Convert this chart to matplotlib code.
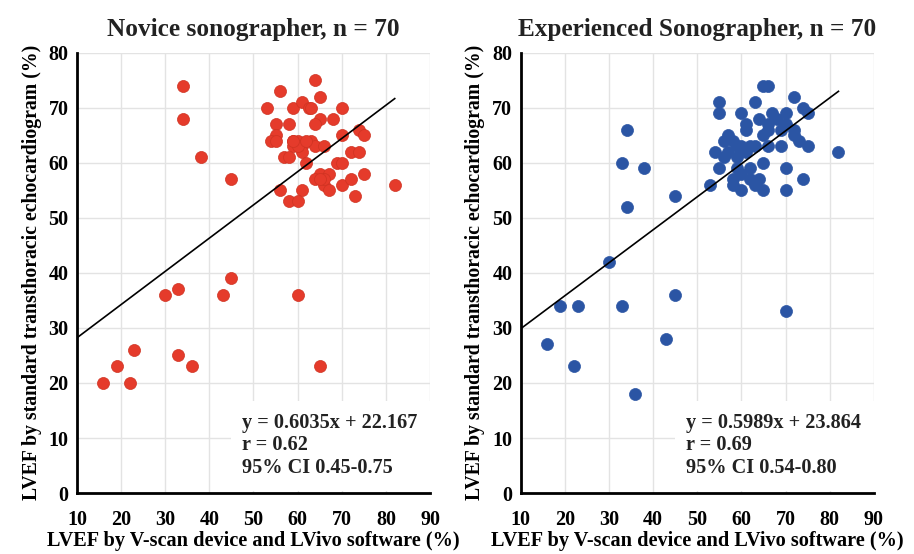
import matplotlib
matplotlib.use("Agg")
import matplotlib.pyplot as plt
from matplotlib.patches import Rectangle

# Novice sonographer
novice_x = [34, 34, 38, 45, 45, 43, 30, 33, 33, 36, 23, 19, 16, 22, 60, 65, 82,
            64, 56, 65, 53, 59, 61, 62.5, 63, 70, 65, 68, 55, 58, 64, 55, 54, 55,
            59, 60, 59, 61, 61, 63, 64, 66, 70, 74, 75, 72, 74, 57, 58, 62, 69,
            70, 65, 67, 64, 66, 67, 70, 72, 75, 73, 56, 61, 58, 60, 66, 60, 62,
            65, 59]
novice_y = [74, 68, 61, 57, 39, 36, 36, 37, 25, 23, 26, 23, 20, 20, 36, 23, 56,
            75, 73, 72, 70, 70, 71, 70, 70, 70, 68, 68, 67, 67, 67, 65, 64, 64,
            64, 64, 63, 63, 62, 64, 63, 63, 65, 66, 65, 62, 62, 61, 61, 60, 60,
            60, 58, 58, 57, 56, 55, 56, 57, 58, 54, 55, 55, 53, 53, 57, 63, 64,
            57, 64]

# Experienced sonographer
exp_x = [16, 22, 19, 23, 33, 36, 43, 45, 30, 34, 33, 34, 38, 45, 70, 82, 53,
         65, 66, 55, 55, 63, 72, 74, 75, 60, 67, 70, 64, 61, 61, 66, 68, 70,
         65, 66, 69, 72, 72, 73, 75, 69, 66, 57, 56, 58, 54, 59, 60, 62, 63,
         56, 59, 55, 59, 62, 65, 70, 58, 60, 62, 64, 58, 60, 65, 70, 74, 63,
         61, 57]
exp_y = [27, 23, 34, 34, 34, 18, 28, 36, 42, 52, 60, 66, 59, 54, 33, 62, 56,
         74, 74, 71, 69, 71, 72, 70, 69, 69, 69, 69, 68, 67, 66, 67, 68, 67,
         65, 66, 66, 66, 65, 64, 63, 63, 63, 65, 64, 64, 62, 63, 63, 63, 63,
         61, 61, 59, 59, 59, 60, 59, 57, 58, 57, 57, 56, 55, 55, 55, 57, 56,
         62, 62]

panels = [
    {"title": "Novice sonographer, n = 70", "x": novice_x, "y": novice_y,
     "slope": 0.6035, "icpt": 22.167, "r": "0.62", "ci": "0.45-0.75",
     "color": "#E53B2B", "edge": "#CF3322"},
    {"title": "Experienced Sonographer, n = 70", "x": exp_x, "y": exp_y,
     "slope": 0.5989, "icpt": 23.864, "r": "0.69", "ci": "0.54-0.80",
     "color": "#2B55A4", "edge": "#2B55A4"},
]

xticks = [10, 20, 30, 40, 50, 60, 70, 80, 90]
yticks = [0, 10, 20, 30, 40, 50, 60, 70, 80]

plt.rcParams['font.family'] = ['Liberation Serif', 'DejaVu Serif']
plt.rcParams['font.weight'] = 'bold'

fig = plt.figure(figsize=(9.14, 5.54), dpi=100)
lefts = [0.0842, 0.5697]
width = 0.3863

for p, left in zip(panels, lefts):
    ax = fig.add_axes([left, 0.110, width, 0.795])
    ax.set_xlim(10, 90)
    ax.set_ylim(0, 80)
    ax.set_xticks(xticks)
    ax.set_yticks(yticks)
    ax.grid(True, color="#E3E3E3", linewidth=1.0, zorder=0)
    ax.set_axisbelow(True)
    for s in ["top", "right"]:
        ax.spines[s].set_visible(False)
    for s in ["left", "bottom"]:
        ax.spines[s].set_linewidth(2)
        ax.spines[s].set_color("black")
    ax.tick_params(length=0, labelsize=14.5, pad=6)
    ax.tick_params(axis="x", pad=12)
    for lab in ax.get_xticklabels() + ax.get_yticklabels():
        lab.set_fontweight("bold")

    # white box behind the statistics text
    ax.add_patch(Rectangle((45, 0.3), 45, 16.4, facecolor="white",
                           edgecolor="none", zorder=1))

    ax.scatter(p["x"], p["y"], s=75, color=p["color"], edgecolors=p["edge"],
               linewidths=0.5, zorder=3, clip_on=False)

    # trend line over the data range
    x0, x1 = 10, max(p["x"])
    ax.plot([x0, x1], [p["slope"] * x0 + p["icpt"], p["slope"] * x1 + p["icpt"]],
            color="black", linewidth=1.2, zorder=4)

    txt = "y = %.4fx + %.3f\nr = %s\n95%% CI %s" % (p["slope"], p["icpt"], p["r"], p["ci"])
    ax.text(47.5, 14.6, txt, fontsize=14.6, fontweight="bold", va="top", ha="left",
            linespacing=1.18, zorder=5, color="#222222")

    ax.set_title(p["title"], fontsize=18.2, fontweight="bold", color="#222222", pad=12)
    ax.set_xlabel("LVEF by V-scan device and LVivo software (%)", fontsize=14.6,
                  fontweight="bold", labelpad=1)
    ax.set_ylabel("LVEF by standard transthoracic echocardiogram (%)", fontsize=14.2,
                  fontweight="bold", labelpad=5)

fig.savefig("out.png", dpi=100)
